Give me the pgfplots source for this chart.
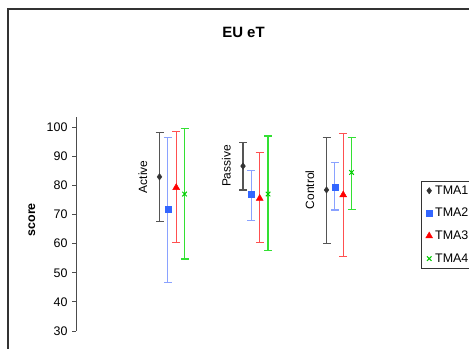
\documentclass[border=0pt]{standalone}
\usepackage{pgfplots}
\pgfplotsset{compat=1.18}
\usetikzlibrary{calc}
\usepackage{fontspec}
\setmainfont{Liberation Sans}
\definecolor{c1m}{HTML}{333333}
\definecolor{c1b}{HTML}{555555}
\definecolor{c2m}{HTML}{3366FF}
\definecolor{c2b}{HTML}{8AA2FF}
\definecolor{c3m}{HTML}{FF0000}
\definecolor{c3b}{HTML}{FF5050}
\definecolor{c4m}{HTML}{00CC00}
\definecolor{c4b}{HTML}{33E033}
\begin{document}
\begin{tikzpicture}[x=1bp,y=1bp]
\begin{axis}[
  scale only axis, width=334bp, height=214bp,
  xmin=0, xmax=4, ymin=30, ymax=103.43,
  axis x line=none, axis y line*=left,
  ytick={30,40,...,100}, xtick=\empty,
  tick align=outside, major tick length=4bp,
  y axis line style={black!70, line width=0.8bp},
  ytick style={black!70, line width=0.8bp},
  /pgf/number format/assume math mode=true,
  tick label style={font=\fontsize{12.5}{15}\selectfont},
  yticklabel style={xshift=-1bp},
  ylabel={score},
  every axis y label/.style={at={(axis description cs:-0.132,0.52)}, rotate=90, anchor=center, font=\bfseries\fontsize{12.5}{15}\selectfont},
  title={EU eT},
  title style={at={(axis description cs:0.5015,1.369)}, anchor=center, font=\bfseries\fontsize{15}{18}\selectfont},
  legend style={at={(1.033,0.701)}, anchor=north west, draw=black!80, fill=white,
    font=\fontsize{12.5}{15}\selectfont, row sep=8.5bp, inner xsep=4.5bp, inner ysep=2.5bp,
    nodes={inner xsep=2.5bp}},
  legend cell align=left,
  legend image code/.code={\draw[mark repeat=2,mark phase=2,#1] plot coordinates {(0cm,0cm)(0.12cm,0cm)(0.24cm,0cm)};},
  clip=false,
]
\addplot[only marks, mark=diamond*, mark size=3.2bp, color=c1m, mark options={fill=c1m},
  error bars/.cd, y dir=both, y explicit,
  error bar style={c1b, line width=1.2bp},
  error mark options={c1b, rotate=90, mark size=4bp, line width=1.2bp}]
  coordinates {
  (1.0,82.9) += (0,15.3) -= (0,15.4)
  (2.0,86.6) += (0,8.0) -= (0,8.2)
  (3.0,78.4) += (0,18.1) -= (0,18.3)
  };
\addlegendentry{TMA1}
\addplot[only marks, mark=square*, mark size=3bp, color=c2m, mark options={fill=c2m},
  error bars/.cd, y dir=both, y explicit,
  error bar style={c2b, line width=1.2bp},
  error mark options={c2b, rotate=90, mark size=4bp, line width=1.2bp}]
  coordinates {
  (1.1,71.9) += (0,24.6) -= (0,25.3)
  (2.1,76.8) += (0,8.2) -= (0,9.0)
  (3.1,79.5) += (0,8.2) -= (0,8.0)
  };
\addlegendentry{TMA2}
\addplot[only marks, mark=triangle*, mark size=4bp, color=c3m, mark options={fill=c3m},
  error bars/.cd, y dir=both, y explicit,
  error bar style={c3b, line width=1.2bp},
  error mark options={c3b, rotate=90, mark size=4bp, line width=1.2bp}]
  coordinates {
  (1.2,79.2) += (0,19.2) -= (0,18.9)
  (2.2,75.5) += (0,15.7) -= (0,15.2)
  (3.2,76.7) += (0,21.1) -= (0,21.0)
  };
\addlegendentry{TMA3}
\addplot[only marks, mark=x, mark size=3.2bp, color=c4m, mark options={line width=1bp},
  error bars/.cd, y dir=both, y explicit,
  error bar style={c4b, line width=1.2bp},
  error mark options={c4b, rotate=90, mark size=4bp, line width=1.2bp}]
  coordinates {
  (1.3,77.0) += (0,22.5) -= (0,22.3)
  (2.3,77.0) += (0,19.9) -= (0,19.5)
  (3.3,84.4) += (0,12.1) -= (0,12.6)
  };
\addlegendentry{TMA4}
\node[rotate=90, font=\fontsize{12}{15}\selectfont] at (axis cs:0.80,82.9) {Active};
\node[rotate=90, font=\fontsize{12}{15}\selectfont] at (axis cs:1.80,86.6) {Passive};
\node[rotate=90, font=\fontsize{12}{15}\selectfont] at (axis cs:2.80,78.4) {Control};
\coordinate (O) at (axis cs:0,30);
\end{axis}
\pgfresetboundingbox
\path[use as bounding box] ($(O)+(-76,-17)$) rectangle ($(O)+(393,331)$);
\draw[line width=1.5bp, black!80] ($(O)+(-68,-30)$) -- ($(O)+(-68,322)$) -- ($(O)+(410,322)$);
\end{tikzpicture}
\end{document}
